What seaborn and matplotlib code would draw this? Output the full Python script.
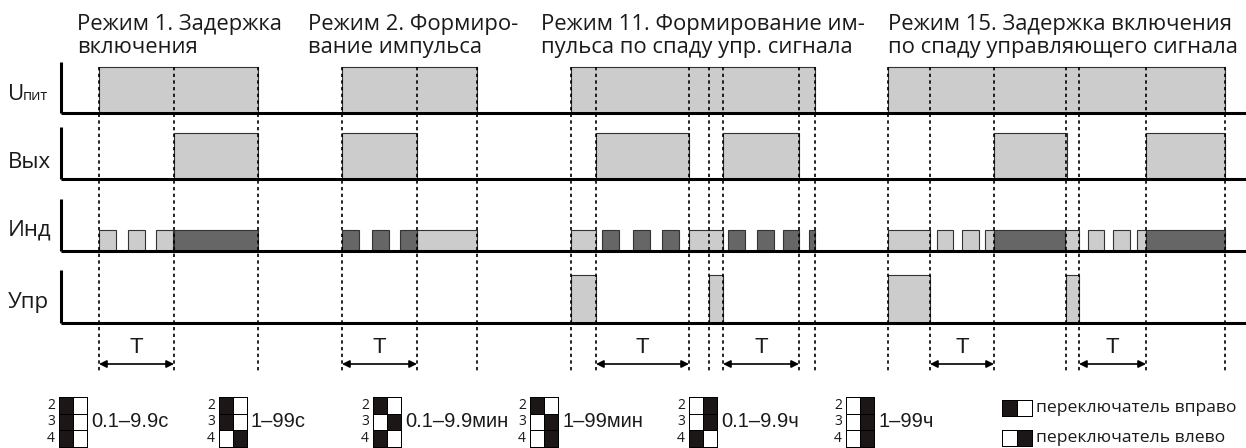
import numpy as np
import pandas as pd
import matplotlib
matplotlib.use("Agg")
import matplotlib.pyplot as plt
import seaborn as sns

W, H = 1246, 448

# Signal rows (pixel layout of the timing chart)
ROW_NAMES = ["Uпит", "Вых", "Инд", "Упр"]
ROW_BASE = [113, 179, 251, 323]
ROW_TOP = [67, 133, 230, 275]
AXIS_TOP = [62, 127, 199, 270]
LABEL_BASE = [100, 168, 236, 308]

# Mode titles (two lines each) and their left x
TITLE_X = [77, 308, 541, 888]
TITLES = [
    ["Режим 1. Задержка", "включения"],
    ["Режим 2. Формиро-", "вание импульса"],
    ["Режим 11. Формирование им-", "пульса по спаду упр. сигнала"],
    ["Режим 15. Задержка включения", "по спаду управляющего сигнала"],
]

# Signal segments (start, end)
u_pit = [(99, 258), (342, 477), (571, 815), (888, 1225)]
vyh = [(174, 258), (342, 417), (596, 689), (723, 799), (994, 1067), (1146, 1225)]
ind_light = [(99, 116), (128, 145), (156, 173),
             (417, 477),
             (571, 596), (689, 723),
             (888, 930), (937, 953), (962, 979), (985, 994),
             (1065, 1079), (1088, 1104), (1113, 1130), (1137, 1146)]
ind_dark = [(174, 258),
            (342, 359), (372, 389), (400, 417),
            (602, 619), (633, 650), (662, 679), (728, 745), (757, 774), (783, 799), (809, 815),
            (994, 1065), (1146, 1225)]
upr = [(571, 596), (709, 723), (888, 930), (1066, 1079)]

# Dashed time marks and T intervals
marks = [99, 174, 258, 342, 417, 477, 571, 596, 689, 709, 723, 799, 815,
         888, 930, 994, 1066, 1079, 1146, 1225]
t_spans = [(99, 174), (342, 417), (596, 689), (723, 799), (930, 994), (1079, 1146)]

# Time range switches (rows 2, 3, 4; cells left/right; 1 = black)
SW_LABELS = ["0.1–9.9с", "1–99с", "0.1–9.9мин", "1–99мин", "0.1–9.9ч", "1–99ч"]
SW_PATTERNS = [
    [[1, 0], [1, 0], [1, 0]],
    [[1, 0], [1, 0], [0, 1]],
    [[1, 0], [0, 1], [1, 0]],
    [[1, 0], [0, 1], [0, 1]],
    [[0, 1], [0, 1], [1, 0]],
    [[0, 1], [0, 1], [0, 1]],
]
SW_X = [59, 219, 373, 530, 689, 846]
LEGEND_LABELS = ["переключатель вправо", "переключатель влево"]
LEGEND_PATTERNS = [[[1, 0]], [[0, 1]]]
LEGEND_Y = [400, 430]

LIGHT = "#cccccc"
DARK = "#666666"
BLACK = "#1c1616"
TEXT = "#1a1a1a"
FONT = ["Open Sans", "DejaVu Sans"]
ARIAL = ["Liberation Sans", "DejaVu Sans"]

sns.set_theme(style="white")
plt.rcParams["font.family"] = FONT
plt.rcParams["text.color"] = TEXT

segs = pd.DataFrame(
    [(0, s, e, LIGHT) for s, e in u_pit]
    + [(1, s, e, LIGHT) for s, e in vyh]
    + [(2, s, e, LIGHT) for s, e in ind_light]
    + [(2, s, e, DARK) for s, e in ind_dark]
    + [(3, s, e, LIGHT) for s, e in upr],
    columns=["row", "start", "end", "color"],
)

fig = plt.figure(figsize=(W / 100, H / 100), dpi=100)
ax = fig.add_axes([0, 0, 1, 1])
ax.set_xlim(0, W)
ax.set_ylim(H, 0)
ax.axis("off")

# pulses
for row, grp in segs.groupby("row"):
    base, top = ROW_BASE[row], ROW_TOP[row]
    ax.bar(grp["start"], top - base, width=grp["end"] - grp["start"], bottom=base,
           align="edge", color=grp["color"], edgecolor="#333333", linewidth=0.8, zorder=2)

# baselines and vertical axes
ax.hlines(ROW_BASE, 61, W, color="black", lw=2.2, zorder=3)
ax.vlines([61] * 4, AXIS_TOP, ROW_BASE, color="black", lw=2.2, zorder=3)

# dashed time marks
ax.vlines(marks, 67, 372, color="black", lw=1.2, linestyles=(0, (2, 2)), zorder=4)

# T arrows
for s, e in t_spans:
    ax.annotate("", xy=(e, 364), xytext=(s, 364),
                arrowprops=dict(arrowstyle="<|-|>", color="black", lw=1.2,
                                shrinkA=0, shrinkB=0, mutation_scale=11))
    ax.text((s + e) / 2, 353, "T", ha="center", va="baseline", fontsize=16, family=ARIAL)

# row labels
ax.text(8, LABEL_BASE[0], "U", fontsize=16, va="baseline")
ax.text(23, LABEL_BASE[0], "пит", fontsize=10.5, va="baseline")
for i in range(1, 4):
    ax.text(8, LABEL_BASE[i], ROW_NAMES[i], fontsize=16, va="baseline")

# mode titles
for x, lines in zip(TITLE_X, TITLES):
    ax.text(x, 30, lines[0], fontsize=15.8, va="baseline")
    ax.text(x, 53, lines[1], fontsize=15.8, va="baseline")

# switch blocks
SW_TOP, SW_ROW, SW_CELL = 397, 16.5, 14
for x, pat, label in zip(SW_X, SW_PATTERNS, SW_LABELS):
    h = 3 * SW_ROW
    sax = fig.add_axes([x / W, 1 - (SW_TOP + h) / H, 2 * SW_CELL / W, h / H])
    sns.heatmap(np.array(pat), ax=sax, cmap=["white", BLACK], vmin=0, vmax=1, cbar=False,
                linewidths=0.6, linecolor="black", xticklabels=False, yticklabels=["2", "3", "4"])
    sax.collections[0].set_clip_on(False)
    sax.set_yticklabels(["2", "3", "4"], rotation=0, fontsize=10, family=FONT, color=TEXT)
    sax.tick_params(axis="y", length=0, pad=3)
    ax.text(x + 2 * SW_CELL + 4, SW_TOP + 1.5 * SW_ROW, label, fontsize=14.5,
            family=ARIAL, va="center")

# legend
for y, pat, label in zip(LEGEND_Y, LEGEND_PATTERNS, LEGEND_LABELS):
    lax = fig.add_axes([1002 / W, 1 - (y + 16) / H, 30 / W, 16 / H])
    sns.heatmap(np.array(pat), ax=lax, cmap=["white", BLACK], vmin=0, vmax=1, cbar=False,
                linewidths=0.6, linecolor="black", xticklabels=False, yticklabels=False)
    lax.collections[0].set_clip_on(False)
    ax.text(1036, y + 8, label, fontsize=12.6, va="center")

fig.savefig("out.png", dpi=100)
